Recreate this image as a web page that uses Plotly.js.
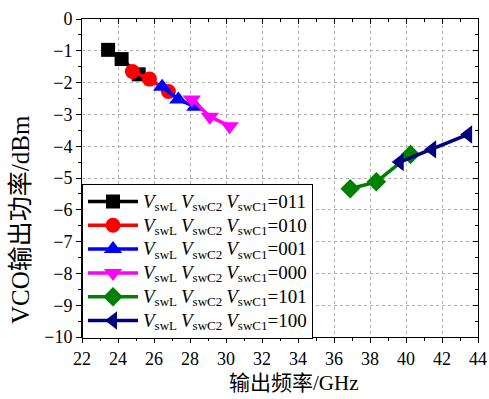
<!DOCTYPE html>
<html>
<head>
<meta charset="utf-8">
<script src="https://cdn.plot.ly/plotly-3.0.1.min.js"></script>
<style>body{margin:0;padding:0;background:#fff}#chart{width:489px;height:399px}</style>
</head>
<body>
<div id="chart"></div>
<script>
const seriesNames = ['011','010','001','000','101','100'];
const x011 = [23.45, 24.2, 25.15];
const y011 = [-0.97, -1.26, -1.74];
const x010 = [24.8, 25.75, 26.8];
const y010 = [-1.65, -1.89, -2.28];
const x001 = [26.45, 27.35, 28.3];
const y001 = [-2.13, -2.53, -2.76];
const x000 = [28.1, 29.1, 30.2];
const y000 = [-2.53, -3.07, -3.37];
const x101 = [36.9, 38.35, 40.25];
const y101 = [-5.34, -5.12, -4.26];
const x100 = [39.65, 41.45, 43.45];
const y100 = [-4.5, -4.1, -3.63];
const xTitle = '输出频率/GHz';
const yTitle = 'VCO输出功率/dBm';

const xs = [x011, x010, x001, x000, x101, x100];
const ys = [y011, y010, y001, y000, y101, y100];
const colors = ['#000000','#ff0000','#0000ff','#ff00ff','#008000','#000080'];
const symbols = ['square','circle','triangle-up','triangle-down','diamond','triangle-left'];
const sizes = [14, 15, 16, 16, 15, 16];
const FONT = '"Liberation Serif", "Times New Roman", "Noto Sans CJK SC", serif';

const big = s => '<span style="font-size:19px">' + s + '</span>';
const sub = s => '<sub><span style="font-size:13px">' + s + '</span></sub>';
const V = big('<i>V</i>');

const traces = xs.map((x, i) => ({
  x: x, y: ys[i], type: 'scatter', mode: 'lines+markers',
  name: V + sub('swL') + ' ' + V + sub('swC2') + ' ' + V + sub('swC1') + big('=' + seriesNames[i]),
  line: {color: colors[i], width: 3.5},
  marker: {color: colors[i], symbol: symbols[i], size: sizes[i]}
}));

const axBase = {
  showline: true, linecolor: '#000', linewidth: 1, zeroline: false,
  tickfont: {family: FONT, size: 18, color: '#000'},
  tickcolor: '#000', ticklen: 5, tickwidth: 1,
};

const layout = {
  width: 489, height: 399,
  margin: {l: 82, r: 11, t: 19, b: 62},
  paper_bgcolor: '#fff', plot_bgcolor: '#fff',
  font: {family: FONT, color: '#000'},
  showlegend: true,
  legend: {
    x: 0, y: -0.005, xanchor: 'left', yanchor: 'bottom',
    bordercolor: '#000', borderwidth: 1, bgcolor: '#fff',
    font: {family: FONT, size: 16, color: '#000'},
    itemwidth: 50, tracegroupgap: 0
  },
  xaxis: Object.assign({}, axBase, {
    range: [22, 44], dtick: 2, tick0: 22, ticks: 'outside', mirror: true,
    showgrid: true, gridcolor: '#b0b0b0', griddash: 'dot', gridwidth: 1,
    minor: {dtick: 1, ticks: 'outside', ticklen: 3, tickcolor: '#000', showgrid: false}
  }),
  yaxis: Object.assign({}, axBase, {
    range: [-10, 0], dtick: 1, ticks: 'outside', mirror: true,
    showgrid: true, gridcolor: '#b0b0b0', griddash: 'dot', gridwidth: 1,
    minor: {dtick: 0.5, ticks: 'outside', ticklen: 3, tickcolor: '#000', showgrid: false}
  }),
  xaxis2: {
    overlaying: 'x', side: 'top', range: [22, 44], dtick: 2, tick0: 22,
    ticks: 'inside', ticklen: 5, tickcolor: '#000', showticklabels: false,
    showgrid: false, zeroline: false, showline: false,
    minor: {dtick: 1, ticks: 'inside', ticklen: 3, tickcolor: '#000'}
  },
  yaxis2: {
    overlaying: 'y', side: 'right', range: [-10, 0], dtick: 1,
    ticks: 'inside', ticklen: 5, tickcolor: '#000', showticklabels: false,
    showgrid: false, zeroline: false, showline: false,
    minor: {dtick: 0.5, ticks: 'inside', ticklen: 3, tickcolor: '#000'}
  },
  annotations: [
    {text: yTitle, xref: 'paper', yref: 'paper', x: -0.155, y: 0.37, xanchor: 'center', yanchor: 'middle',
     textangle: -90, showarrow: false, font: {family: FONT, size: 25, color: '#000'}},
    {text: xTitle, xref: 'paper', yref: 'paper', x: 0.535, y: -0.145, xanchor: 'center', yanchor: 'middle',
     showarrow: false, font: {family: FONT, size: 21, color: '#000'}}
  ]
};

traces.push({x: [22], y: [-20], xaxis: 'x2', yaxis: 'y2', type: 'scatter', mode: 'markers',
  showlegend: false, hoverinfo: 'skip', marker: {opacity: 0}});

Plotly.newPlot('chart', traces, layout, {displayModeBar: false, staticPlot: true});
</script>
</body>
</html>
